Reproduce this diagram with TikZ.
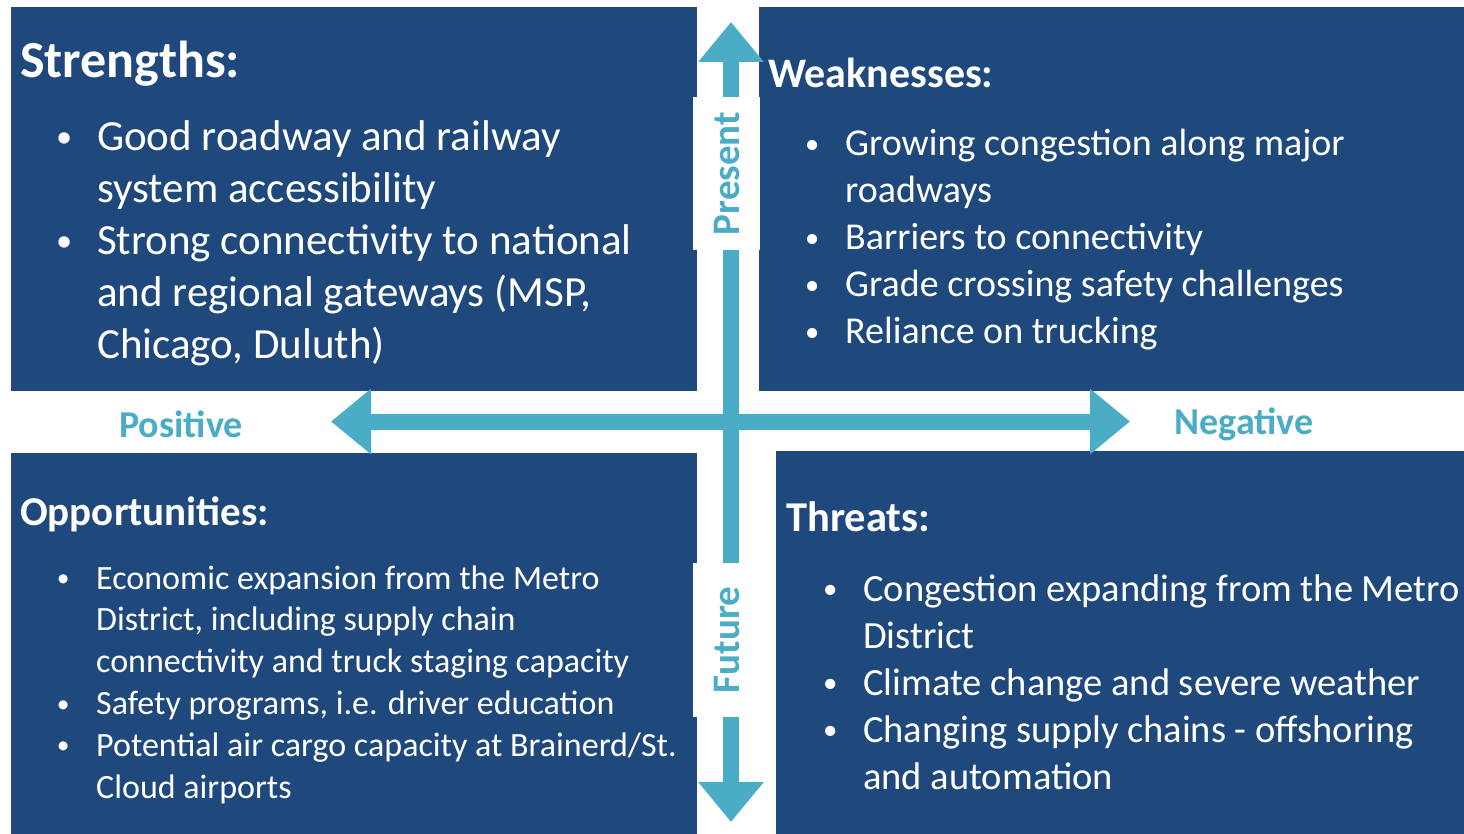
\documentclass[tikz,border=0pt]{standalone}
\usepackage{fontspec}
\setmainfont{Carlito}
\usetikzlibrary{arrows.meta}
\definecolor{swotblue}{RGB}{31,73,125}
\definecolor{swotteal}{RGB}{75,172,198}
\tikzstyle{quadrant} = [rectangle, fill=swotblue, inner sep=0pt, anchor=north west]
\tikzstyle{heading} = [text=white, inner sep=0pt, anchor=base west]
\tikzstyle{bullets} = [text=white, inner sep=0pt, anchor=base west]
\tikzstyle{axis} = [swotteal, line width=16pt, {Triangle[width=63pt,length=40pt]}-{Triangle[width=63pt,length=40pt]}]
\tikzstyle{axislabel} = [text=swotteal, inner sep=0pt]
\tikzstyle{timebox} = [fill=white, inner sep=0pt, text=swotteal, rotate=90]
\newcommand{\bul}{\makebox[66pt][c]{\raisebox{0.07em}{\scalebox{0.75}{\textbullet}}}}

\begin{document}
\begin{tikzpicture}[x=1pt, y=-1pt]
    \useasboundingbox (0,0) rectangle (1464,834);
    % Place quadrants
    \node (str) [quadrant, minimum width=686pt, minimum height=384pt] at (11,7) {};
    \node (wea) [quadrant, minimum width=705pt, minimum height=384pt] at (759,7) {};
    \node (opp) [quadrant, minimum width=686pt, minimum height=381pt] at (11,453) {};
    \node (thr) [quadrant, minimum width=688pt, minimum height=383pt] at (776,451) {};

    % Axis ends
    \coordinate (up) at (731,22);
    \coordinate (down) at (731,822);
    \coordinate (left) at (331,421.5);
    \coordinate (right) at (1130,421.5);
    \draw [axis] (left) -- (right);
    \draw [axis] (down) -- (up);

    % Time labels
    \node (present) [timebox, minimum width=153pt, minimum height=67pt, font=\bfseries\fontsize{39}{47}\selectfont] at (726.5,173.5) {Present};
    \node (future) [timebox, minimum width=154pt, minimum height=67pt, font=\bfseries\fontsize{39}{47}\selectfont] at (726.5,640) {Future};
    \node (positive) [axislabel, font=\bfseries\fontsize{38}{46}\selectfont] at (181,424) {Positive};
    \node (negative) [axislabel, font=\bfseries\fontsize{38}{46}\selectfont] at (1244,424) {Negative};

    % Headings
    \node (strhead) [heading, font=\bfseries\fontsize{52}{62}\selectfont] at (20,78) {Strengths:};
    \node (weahead) [heading, font=\bfseries\fontsize{42}{50}\selectfont] at (768,88) {Weaknesses:};
    \node (opphead) [heading, font=\bfseries\fontsize{41}{50}\selectfont] at (20,525) {Opportunities:};
    \node (thrhead) [heading, font=\bfseries\fontsize{42.5}{50}\selectfont] at (786,531) {Threats:};

    % Bullet lists
    \node (strlist) [bullets, font=\fontsize{43}{52}\selectfont] at (31,151) {\begin{tabular}[t]{@{}l@{}l@{}}
        \bul & Good roadway and railway\\
             & system accessibility\\
        \bul & Strong connectivity to national\\
             & and regional gateways (MSP,\\
             & Chicago, Duluth)
    \end{tabular}};
    \node (wealist) [bullets, font=\fontsize{38}{47}\selectfont] at (779,156) {\begin{tabular}[t]{@{}l@{}l@{}}
        \bul & Growing congestion along major\\
             & roadways\\
        \bul & Barriers to connectivity\\
        \bul & Grade crossing safety challenges\\
        \bul & Reliance on trucking
    \end{tabular}};
    \node (opplist) [bullets, font=\fontsize{34}{41.8}\selectfont] at (30,589) {\begin{tabular}[t]{@{}l@{}l@{}}
        \bul & Economic expansion from the Metro\\
             & District, including supply chain\\
             & connectivity and truck staging capacity\\
        \bul & Safety programs, i.e. driver education\\
        \bul & Potential air cargo capacity at Brainerd/St.\\
             & Cloud airports
    \end{tabular}};
    \node (thrlist) [bullets, font=\fontsize{38.5}{47.2}\selectfont] at (797,601) {\begin{tabular}[t]{@{}l@{}l@{}}
        \bul & Congestion expanding from the Metro\\
             & District\\
        \bul & Climate change and severe weather\\
        \bul & Changing supply chains - offshoring\\
             & and automation
    \end{tabular}};
\end{tikzpicture}
\end{document}
